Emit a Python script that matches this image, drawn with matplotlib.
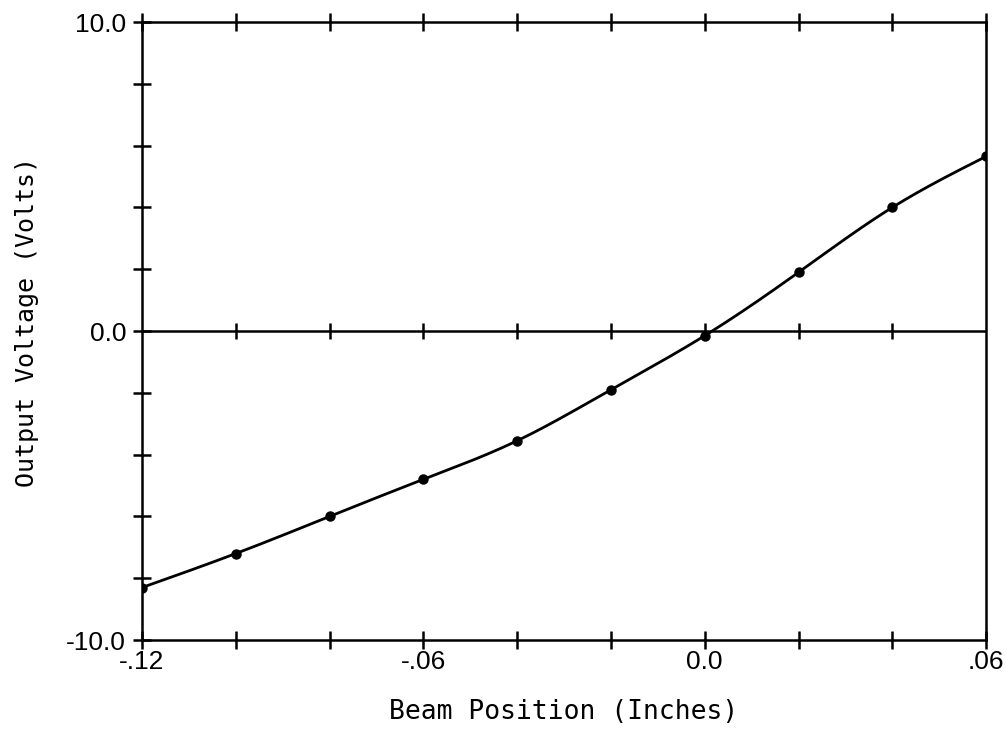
import matplotlib.pyplot as plt
import numpy as np

# beam position (inches) and measured output voltage (volts)
position = [-0.12, -0.10, -0.08, -0.06, -0.04, -0.02, 0.0, 0.02, 0.04, 0.06]
voltage = [-8.3, -7.2, -6.0, -4.8, -3.55, -1.9, -0.15, 1.9, 4.0, 5.65]

x_ticks = [-0.12, -0.10, -0.08, -0.06, -0.04, -0.02, 0.0, 0.02, 0.04, 0.06]
x_labels = ["-.12", "", "", "-.06", "", "", "0.0", "", "", ".06"]
y_ticks = [-10, -8, -6, -4, -2, 0, 2, 4, 6, 8, 10]
y_labels = ["-10.0", "", "", "", "", "0.0", "", "", "", "", "10.0"]

xp = np.array(position)
yp = np.array(voltage)

# natural cubic spline through the points
n = len(xp)
h = np.diff(xp)
A = np.zeros((n, n))
b = np.zeros(n)
A[0, 0] = A[-1, -1] = 1
for i in range(1, n - 1):
    A[i, i-1] = h[i-1]
    A[i, i] = 2 * (h[i-1] + h[i])
    A[i, i+1] = h[i]
    b[i] = 6 * ((yp[i+1] - yp[i]) / h[i] - (yp[i] - yp[i-1]) / h[i-1])
M = np.linalg.solve(A, b)
xs, ys = [], []
for i in range(n - 1):
    t = np.linspace(xp[i], xp[i+1], 40)
    a = xp[i+1] - t
    c = t - xp[i]
    s = (M[i] * a**3 + M[i+1] * c**3) / (6 * h[i]) \
        + (yp[i] / h[i] - M[i] * h[i] / 6) * a \
        + (yp[i+1] / h[i] - M[i+1] * h[i] / 6) * c
    xs.append(t)
    ys.append(s)
xs = np.concatenate(xs)
ys = np.concatenate(ys)

fig = plt.figure(figsize=(10.06, 7.34), dpi=100)
ax = fig.add_axes([0.1412, 0.128, 0.839, 0.842])

ax.plot(xs, ys, color="black", lw=2.0)
ax.plot(xp, yp, "o", color="black", ms=6.5)

# zero line with crossing ticks
ax.axhline(0, color="black", lw=1.8)
ax.plot(x_ticks[1:-1], [0]*(len(x_ticks)-2), "|", color="black", ms=12, mew=1.8)

ax.set_xlim(-0.12, 0.06)
ax.set_ylim(-10, 10)
ax.set_xticks(x_ticks)
ax.set_xticklabels(x_labels, fontfamily="Liberation Sans", fontsize=19)
ax.set_yticks(y_ticks)
ax.set_yticklabels(y_labels, fontfamily="Liberation Sans", fontsize=19)
ax.tick_params(axis="x", direction="inout", length=13, width=1.8, top=True, pad=1)
ax.tick_params(axis="y", direction="inout", length=13, width=1.8, right=False, pad=5)

for s in ax.spines.values():
    s.set_linewidth(1.8)

ax.set_xlabel("Beam Position (Inches)", fontfamily="DejaVu Sans Mono", fontsize=19, labelpad=18)
ax.set_ylabel("Output Voltage (Volts)", fontfamily="DejaVu Sans Mono", fontsize=18)
ax.yaxis.set_label_coords(-0.122, 0.515)

fig.savefig("out.png", dpi=100)
